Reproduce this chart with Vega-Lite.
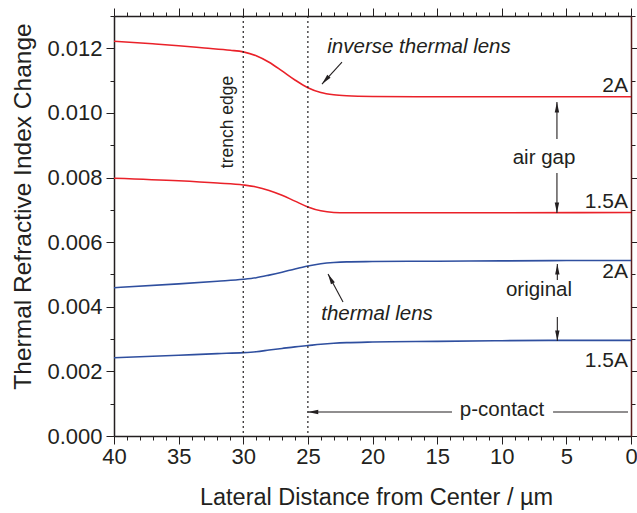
{
  "$schema": "https://vega.github.io/schema/vega-lite/v6.json",
  "width": 517,
  "height": 420,
  "autosize": {"type": "none"},
  "padding": {"left": 114, "top": 16, "right": 6, "bottom": 77},
  "background": "white",
  "config": {
    "view": {"stroke": null},
    "font": "Liberation Sans",
    "axis": {
      "grid": false,
      "domainColor": "#231f20",
      "domainWidth": 1.5,
      "tickColor": "#231f20",
      "tickWidth": 1,
      "labelColor": "#231f20",
      "labelFont": "Liberation Sans",
      "labelFontSize": 22,
      "labelFlush": false,
      "labelOverlap": false,
      "labelBound": false,
      "titleColor": "#231f20",
      "titleFont": "Liberation Sans",
      "titleFontWeight": "normal"
    }
  },
  "datasets": {
    "curves": [
      {"series": "air2A", "x": 40, "y": 0.01222},
      {"series": "air2A", "x": 37, "y": 0.01214},
      {"series": "air2A", "x": 35, "y": 0.01208},
      {"series": "air2A", "x": 33, "y": 0.01201},
      {"series": "air2A", "x": 31, "y": 0.01194},
      {"series": "air2A", "x": 30, "y": 0.01189},
      {"series": "air2A", "x": 29, "y": 0.01177},
      {"series": "air2A", "x": 28, "y": 0.01157},
      {"series": "air2A", "x": 27, "y": 0.0113},
      {"series": "air2A", "x": 26, "y": 0.01102},
      {"series": "air2A", "x": 25, "y": 0.01078},
      {"series": "air2A", "x": 24, "y": 0.01063},
      {"series": "air2A", "x": 23, "y": 0.01056},
      {"series": "air2A", "x": 22, "y": 0.01053},
      {"series": "air2A", "x": 20, "y": 0.01051},
      {"series": "air2A", "x": 15, "y": 0.0105},
      {"series": "air2A", "x": 10, "y": 0.0105},
      {"series": "air2A", "x": 5, "y": 0.0105},
      {"series": "air2A", "x": 0, "y": 0.0105},
      {"series": "air15A", "x": 40, "y": 0.00798},
      {"series": "air15A", "x": 35, "y": 0.0079},
      {"series": "air15A", "x": 32, "y": 0.00783},
      {"series": "air15A", "x": 30, "y": 0.00777},
      {"series": "air15A", "x": 29, "y": 0.00771},
      {"series": "air15A", "x": 28, "y": 0.0076},
      {"series": "air15A", "x": 27, "y": 0.00745},
      {"series": "air15A", "x": 26, "y": 0.00727},
      {"series": "air15A", "x": 25, "y": 0.00709},
      {"series": "air15A", "x": 24, "y": 0.00697},
      {"series": "air15A", "x": 23, "y": 0.00692},
      {"series": "air15A", "x": 22, "y": 0.00691},
      {"series": "air15A", "x": 20, "y": 0.00691},
      {"series": "air15A", "x": 10, "y": 0.00691},
      {"series": "air15A", "x": 0, "y": 0.00692},
      {"series": "orig2A", "x": 40, "y": 0.00459},
      {"series": "orig2A", "x": 35, "y": 0.00471},
      {"series": "orig2A", "x": 32, "y": 0.00479},
      {"series": "orig2A", "x": 30, "y": 0.00485},
      {"series": "orig2A", "x": 29, "y": 0.0049},
      {"series": "orig2A", "x": 28, "y": 0.00498},
      {"series": "orig2A", "x": 27, "y": 0.00507},
      {"series": "orig2A", "x": 26, "y": 0.00517},
      {"series": "orig2A", "x": 25, "y": 0.00526},
      {"series": "orig2A", "x": 24, "y": 0.00533},
      {"series": "orig2A", "x": 23, "y": 0.00537},
      {"series": "orig2A", "x": 22, "y": 0.00539},
      {"series": "orig2A", "x": 20, "y": 0.0054},
      {"series": "orig2A", "x": 15, "y": 0.00541},
      {"series": "orig2A", "x": 10, "y": 0.00542},
      {"series": "orig2A", "x": 5, "y": 0.00543},
      {"series": "orig2A", "x": 0, "y": 0.00543},
      {"series": "orig15A", "x": 40, "y": 0.00242},
      {"series": "orig15A", "x": 35, "y": 0.0025},
      {"series": "orig15A", "x": 32, "y": 0.00255},
      {"series": "orig15A", "x": 30, "y": 0.00258},
      {"series": "orig15A", "x": 29, "y": 0.00261},
      {"series": "orig15A", "x": 28, "y": 0.00266},
      {"series": "orig15A", "x": 27, "y": 0.00271},
      {"series": "orig15A", "x": 26, "y": 0.00276},
      {"series": "orig15A", "x": 25, "y": 0.0028},
      {"series": "orig15A", "x": 24, "y": 0.00284},
      {"series": "orig15A", "x": 23, "y": 0.00287},
      {"series": "orig15A", "x": 22, "y": 0.00289},
      {"series": "orig15A", "x": 20, "y": 0.00291},
      {"series": "orig15A", "x": 15, "y": 0.00293},
      {"series": "orig15A", "x": 10, "y": 0.00295},
      {"series": "orig15A", "x": 5, "y": 0.00296},
      {"series": "orig15A", "x": 0, "y": 0.00296}
    ],
    "edges": [{"x": 30}, {"x": 25}],
    "endLabels": [
      {"x": 0.23, "y": 0.010648, "label": "2A"},
      {"x": 0.23, "y": 0.007057, "label": "1.5A"},
      {"x": 0.23, "y": 0.00489, "label": "2A"},
      {"x": 0.23, "y": 0.002136, "label": "1.5A"}
    ],
    "midLabels": [
      {"x": 6.73, "y": 0.00859, "label": "air gap"},
      {"x": 7.12, "y": 0.00452, "label": "original"},
      {"x": 9.98, "y": 0.000805, "label": "p-contact"}
    ],
    "italicLabels": [
      {"x": 16.4, "y": 0.011855, "label": "inverse thermal lens"},
      {"x": 19.65, "y": 0.00359, "label": "thermal lens"}
    ],
    "rotLabels": [
      {"x": 31.18, "y": 0.00972, "label": "trench edge"}
    ],
    "shafts": [
      {"x": 22.36, "y": 0.011576, "x2": 23.91, "y2": 0.010895},
      {"x": 22.28, "y": 0.004148, "x2": 23.44, "y2": 0.005014},
      {"x": 5.73, "y": 0.009193, "x2": 5.73, "y2": 0.010338},
      {"x": 5.73, "y": 0.00814, "x2": 5.73, "y2": 0.006902},
      {"x": 5.7, "y": 0.004829, "x2": 5.7, "y2": 0.005324},
      {"x": 5.7, "y": 0.003683, "x2": 5.7, "y2": 0.00294},
      {"x": 13.85, "y": 0.000743, "x2": 25.0, "y2": 0.000743},
      {"x": 6.03, "y": 0.000743, "x2": 0.23, "y2": 0.000743}
    ],
    "headsUp": [
      {"x": 5.73, "y": 0.010338},
      {"x": 5.7, "y": 0.005324}
    ],
    "headsDown": [
      {"x": 5.73, "y": 0.006902},
      {"x": 5.7, "y": 0.00294}
    ],
    "headsLeft": [
      {"x": 25.0, "y": 0.000743}
    ],
    "headsDownLeft": [
      {"x": 23.91, "y": 0.010895}
    ],
    "headsUpLeft": [
      {"x": 23.44, "y": 0.005014}
    ]
  },
  "layer": [
    {
      "data": {"name": "curves"},
      "mark": {"type": "line", "interpolate": "monotone", "strokeWidth": 1.6},
      "encoding": {
        "x": {
          "field": "x", "type": "quantitative",
          "scale": {"domain": [0, 40], "reverse": true, "nice": false, "zero": false},
          "axis": {
            "orient": "bottom",
            "values": [0,1,2,3,4,5,6,7,8,9,10,11,12,13,14,15,16,17,18,19,20,21,22,23,24,25,26,27,28,29,30,31,32,33,34,35,36,37,38,39,40],
            "tickSize": {"condition": {"test": "datum.value % 5 === 0", "value": 8}, "value": 4},
            "labelExpr": "datum.value % 5 === 0 ? datum.label : ''",
            "labelPadding": 2,
            "title": "Lateral Distance from Center / µm",
            "titleFontSize": 23.5,
            "titleX": 262,
            "titleY": 61,
            "titleAlign": "center",
            "titleBaseline": "middle"
          }
        },
        "y": {
          "field": "y", "type": "quantitative",
          "scale": {"domain": [0, 0.013], "nice": false, "zero": true},
          "axis": {
            "orient": "left",
            "values": [0,0.001,0.002,0.003,0.004,0.005,0.006,0.007,0.008,0.009,0.01,0.011,0.012,0.013],
            "tickSize": {"condition": {"test": "round(datum.value*1000) % 2 === 0", "value": 8}, "value": 4},
            "labelExpr": "round(datum.value*1000) % 2 === 0 ? format(datum.value, '.3f') : ''",
            "labelPadding": 4,
            "title": "Thermal Refractive Index Change",
            "titleFontSize": 24.5,
            "titleX": -91,
            "titleY": 190,
            "titleAngle": 270,
            "titleAlign": "center",
            "titleBaseline": "middle"
          }
        },
        "color": {
          "field": "series", "type": "nominal",
          "scale": {"domain": ["air2A", "air15A", "orig2A", "orig15A"], "range": ["#ea2129", "#ea2129", "#2f4f9f", "#2f4f9f"]},
          "legend": null
        }
      }
    },
    {
      "data": {"name": "edges"},
      "mark": {"type": "rule", "strokeDash": [2, 3], "strokeWidth": 1.2, "color": "#231f20"},
      "encoding": {
        "x": {
          "field": "x", "type": "quantitative",
          "axis": {
            "orient": "top",
            "values": [0,1,2,3,4,5,6,7,8,9,10,11,12,13,14,15,16,17,18,19,20,21,22,23,24,25,26,27,28,29,30,31,32,33,34,35,36,37,38,39,40],
            "tickSize": {"condition": {"test": "datum.value % 5 === 0", "value": 8}, "value": 4},
            "labels": false,
            "title": null
          }
        }
      }
    },
    {
      "data": {"name": "endLabels"},
      "mark": {"type": "text", "align": "right", "baseline": "alphabetic", "fontSize": 21, "color": "#231f20"},
      "encoding": {
        "x": {"field": "x", "type": "quantitative", "axis": null},
        "y": {
          "field": "y", "type": "quantitative",
          "axis": {
            "orient": "right",
            "values": [0,0.001,0.002,0.003,0.004,0.005,0.006,0.007,0.008,0.009,0.01,0.011,0.012,0.013],
            "tickSize": {"condition": {"test": "round(datum.value*1000) % 2 === 0", "value": 8}, "value": 4},
            "labels": false,
            "title": null,
            "domainColor": "#5b1e1e"
          }
        },
        "text": {"field": "label"}
      }
    },
    {
      "data": {"name": "midLabels"},
      "mark": {"type": "text", "align": "center", "baseline": "middle", "fontSize": 20.5, "color": "#231f20"},
      "encoding": {
        "x": {"field": "x", "type": "quantitative", "axis": null},
        "y": {"field": "y", "type": "quantitative", "axis": null},
        "text": {"field": "label"}
      }
    },
    {
      "data": {"name": "italicLabels"},
      "mark": {"type": "text", "align": "center", "baseline": "alphabetic", "fontSize": 20.5, "fontStyle": "italic", "color": "#231f20"},
      "encoding": {
        "x": {"field": "x", "type": "quantitative", "axis": null},
        "y": {"field": "y", "type": "quantitative", "axis": null},
        "text": {"field": "label"}
      }
    },
    {
      "data": {"name": "rotLabels"},
      "mark": {"type": "text", "align": "center", "baseline": "middle", "angle": 270, "fontSize": 17.5, "color": "#231f20"},
      "encoding": {
        "x": {"field": "x", "type": "quantitative", "axis": null},
        "y": {"field": "y", "type": "quantitative", "axis": null},
        "text": {"field": "label"}
      }
    },
    {
      "data": {"name": "shafts"},
      "mark": {"type": "rule", "strokeWidth": 1.1, "color": "#231f20"},
      "encoding": {
        "x": {"field": "x", "type": "quantitative", "axis": null},
        "y": {"field": "y", "type": "quantitative", "axis": null},
        "x2": {"field": "x2"},
        "y2": {"field": "y2"}
      }
    },
    {
      "data": {"name": "headsUp"},
      "mark": {"type": "point", "shape": "M0,0L-0.55,2.6L0.55,2.6Z", "size": 64, "filled": true, "opacity": 1, "color": "#231f20", "angle": 0},
      "encoding": {
        "x": {"field": "x", "type": "quantitative", "axis": null},
        "y": {"field": "y", "type": "quantitative", "axis": null}
      }
    },
    {
      "data": {"name": "headsDown"},
      "mark": {"type": "point", "shape": "M0,0L-0.55,2.6L0.55,2.6Z", "size": 64, "filled": true, "opacity": 1, "color": "#231f20", "angle": 180},
      "encoding": {
        "x": {"field": "x", "type": "quantitative", "axis": null},
        "y": {"field": "y", "type": "quantitative", "axis": null}
      }
    },
    {
      "data": {"name": "headsLeft"},
      "mark": {"type": "point", "shape": "M0,0L-0.55,2.6L0.55,2.6Z", "size": 64, "filled": true, "opacity": 1, "color": "#231f20", "angle": 270},
      "encoding": {
        "x": {"field": "x", "type": "quantitative", "axis": null},
        "y": {"field": "y", "type": "quantitative", "axis": null}
      }
    },
    {
      "data": {"name": "headsDownLeft"},
      "mark": {"type": "point", "shape": "M0,0L-0.55,2.6L0.55,2.6Z", "size": 64, "filled": true, "opacity": 1, "color": "#231f20", "angle": 222},
      "encoding": {
        "x": {"field": "x", "type": "quantitative", "axis": null},
        "y": {"field": "y", "type": "quantitative", "axis": null}
      }
    },
    {
      "data": {"name": "headsUpLeft"},
      "mark": {"type": "point", "shape": "M0,0L-0.55,2.6L0.55,2.6Z", "size": 64, "filled": true, "opacity": 1, "color": "#231f20", "angle": 332},
      "encoding": {
        "x": {"field": "x", "type": "quantitative", "axis": null},
        "y": {"field": "y", "type": "quantitative", "axis": null}
      }
    }
  ],
  "resolve": {"axis": {"x": "independent", "y": "independent"}}
}
